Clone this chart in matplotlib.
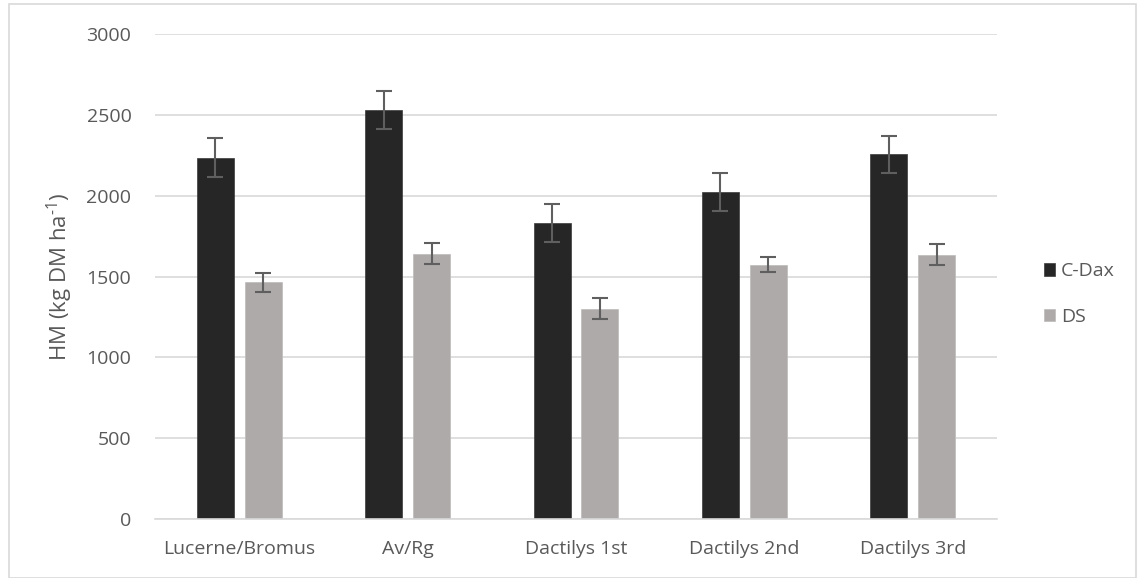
import matplotlib
matplotlib.use("Agg")
import matplotlib.pyplot as plt
import numpy as np
from matplotlib.patches import Rectangle

categories = ["Lucerne/Bromus", "Av/Rg", "Dactilys 1st", "Dactilys 2nd", "Dactilys 3rd"]
cdax = [2235, 2530, 1833, 2025, 2255]
cdax_err = [120, 115, 117, 117, 117]
ds = [1463, 1642, 1302, 1574, 1636]
ds_err = [60, 65, 65, 45, 67]
yticks = [0, 500, 1000, 1500, 2000, 2500, 3000]

plt.rcParams['font.family'] = ['Open Sans', 'DejaVu Sans']
plt.rcParams['mathtext.fontset'] = 'custom'
plt.rcParams['mathtext.rm'] = 'Open Sans'
plt.rcParams['mathtext.it'] = 'Open Sans'
W, H = 1143, 578
fig = plt.figure(figsize=(W/100, H/100), dpi=100)
ax = fig.add_axes([155/W, 1-519/H, 842/W, 485/H])

x = np.arange(len(categories))
bw = 0.22
off = 0.142
ax.bar(x-off, cdax, bw, color='#262626', edgecolor='#3a3a3a', linewidth=0.5, label='C-Dax', zorder=2)
ax.bar(x+off, ds, bw, color='#aeaaaa', edgecolor='#bdbaba', linewidth=0.5, label='DS', zorder=2)
ax.errorbar(x-off, cdax, yerr=cdax_err, fmt='none', ecolor='#5f5f5f', elinewidth=1.5, capsize=6, capthick=1.5, zorder=3)
ax.errorbar(x+off, ds, yerr=ds_err, fmt='none', ecolor='#5f5f5f', elinewidth=1.5, capsize=6, capthick=1.5, zorder=3)

ax.set_xlim(-0.5, len(categories)-0.5)
ax.set_ylim(0, 3000)
ax.set_yticks(yticks)
ax.set_xticks(x)
ax.set_xticklabels(categories)
ax.tick_params(axis='both', length=0, labelsize=14, colors='#595959')
ax.tick_params(axis='y', pad=17)
ax.tick_params(axis='x', pad=15)
ax.yaxis.grid(True, color='#d9d9d9', linewidth=1.2, zorder=0)
ax.set_axisbelow(True)
for s in ['top', 'right', 'left']:
    ax.spines[s].set_visible(False)
ax.spines['bottom'].set_color('#d9d9d9')
ax.spines['bottom'].set_linewidth(1.2)
ax.set_ylabel(r'HM (kg DM ha$^{\text{-1}}$)', fontsize=16, color='#595959', labelpad=8)

leg = fig.legend(handles=ax.get_legend_handles_labels()[0], labels=['C-Dax', 'DS'],
                 loc='center left', bbox_to_anchor=(1026/W, 1-294/H), frameon=False,
                 fontsize=14, labelcolor='#595959', handlelength=0.6, handleheight=0.6,
                 handletextpad=0.3, labelspacing=1.4)

fig.patches.append(Rectangle((9/W, 0), (1136-9)/W, 1-4/H, transform=fig.transFigure,
                             fill=False, edgecolor='#d9d9d9', linewidth=1.2))
fig.savefig('out.png', dpi=100)
